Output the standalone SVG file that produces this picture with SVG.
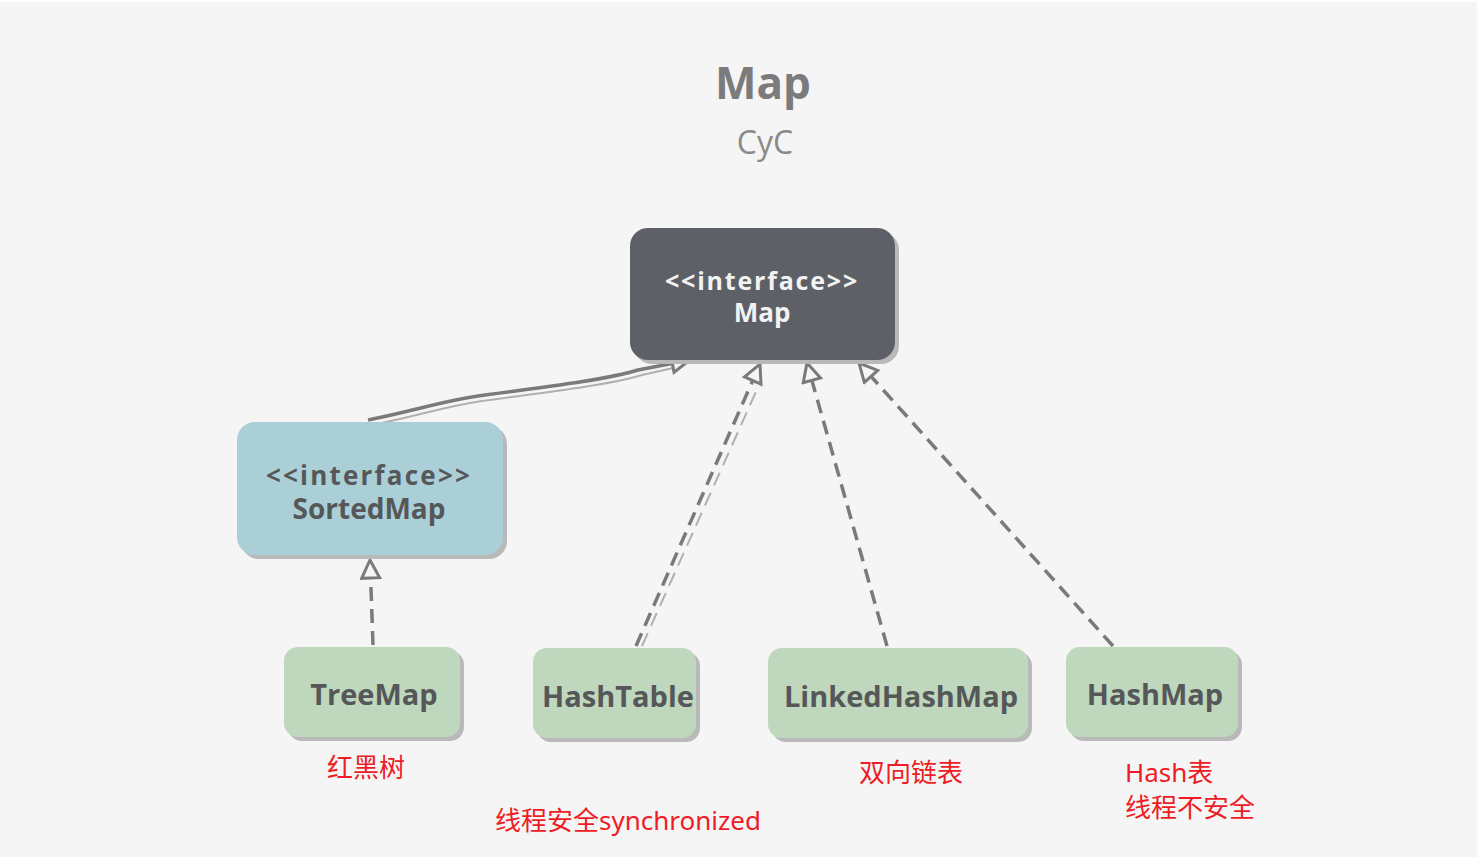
<svg xmlns="http://www.w3.org/2000/svg" width="1483" height="861" viewBox="0 0 1483 861">
<defs>
<style>
.shadow{fill:#b9b9b9}
.lbl{font-family:"Open Sans","Liberation Sans",sans-serif;font-weight:bold;text-anchor:middle}
.dark{fill:#555759}
.red{font-family:"Noto Sans","Noto Sans CJK SC",sans-serif;fill:#ee1c25;font-size:26px}
.ln{fill:none;stroke:#7a7a7a;stroke-width:3.5}
.ln2{fill:none;stroke:#b0b0b0;stroke-width:2}
.dash{stroke-dasharray:14 8}
</style>
<marker id="tri" markerUnits="userSpaceOnUse" markerWidth="24" markerHeight="24" refX="18" refY="9" orient="auto" viewBox="-2 -2 24 24">
<path d="M0,0 L18,9 L0,18 Z" fill="#f5f5f5" stroke="#7a7a7a" stroke-width="3" stroke-linejoin="miter"/>
</marker>
</defs>
<rect x="0" y="0" width="1483" height="861" fill="#ffffff"/>
<rect x="0" y="2" width="1477" height="855" fill="#f5f5f5"/>
<text x="763" y="99" text-anchor="middle" font-family="Open Sans, Liberation Sans, sans-serif" font-weight="bold" font-size="44" fill="#7b7b7b">Map</text>
<text x="765" y="154" text-anchor="middle" font-family="Open Sans, Liberation Sans, sans-serif" font-size="32" fill="#8a8a8a">CyC</text>

<g id="connectors">
<path class="ln2" d="M372,425 C422,415 442,407 482,401 S602,387 642,375 L682,366"/>
<path class="ln" d="M368,420 C418,410 438,402 478,396 S598,382 638,370 L690,360" marker-end="url(#tri)"/>
<path class="ln2 dash" d="M642,646 L759,385"/>
<path class="ln dash" d="M636,646 L760,364" marker-end="url(#tri)"/>
<path class="ln dash" d="M887,646 L807,363" marker-end="url(#tri)"/>
<path class="ln dash" d="M1113,646 L859,363" marker-end="url(#tri)"/>
<path class="ln dash" d="M373,645 L370,560" marker-end="url(#tri)"/>
</g>

<g id="node-map">
<rect class="shadow" x="634" y="232" width="265" height="132" rx="18"/>
<rect x="630" y="228" width="265" height="132" rx="18" fill="#5e6068"/>
<text class="lbl" x="762" y="290" font-size="25" fill="#f2f2f2" letter-spacing="1.8">&lt;&lt;interface&gt;&gt;</text>
<text class="lbl" x="762" y="322" font-size="26" fill="#f2f2f2">Map</text>
</g>

<g id="node-sortedmap">
<rect class="shadow" x="241" y="426" width="266" height="133" rx="18"/>
<rect x="237" y="422" width="266" height="133" rx="18" fill="#abcfd6"/>
<text class="lbl dark" x="369" y="485" font-size="26" letter-spacing="2.2">&lt;&lt;interface&gt;&gt;</text>
<text class="lbl dark" x="369" y="519" font-size="28">SortedMap</text>
</g>

<g id="node-treemap">
<rect class="shadow" x="288" y="651" width="176" height="90" rx="14"/>
<rect x="284" y="647" width="176" height="90" rx="14" fill="#bfd8bd"/>
<text class="lbl dark" x="374" y="705" font-size="29">TreeMap</text>
</g>

<g id="node-hashtable">
<rect class="shadow" x="537" y="652" width="163" height="90" rx="14"/>
<rect x="533" y="648" width="163" height="90" rx="14" fill="#bfd8bd"/>
<text class="lbl dark" x="618" y="707" font-size="29">HashTable</text>
</g>

<g id="node-linkedhashmap">
<rect class="shadow" x="772" y="652" width="260" height="90" rx="14"/>
<rect x="768" y="648" width="260" height="90" rx="14" fill="#bfd8bd"/>
<text class="lbl dark" x="901" y="707" font-size="29">LinkedHashMap</text>
</g>

<g id="node-hashmap">
<rect class="shadow" x="1070" y="651" width="172" height="90" rx="14"/>
<rect x="1066" y="647" width="172" height="90" rx="14" fill="#bfd8bd"/>
<text class="lbl dark" x="1155" y="705" font-size="29">HashMap</text>
</g>

<g id="notes">
<text class="red" x="327" y="777">红黑树</text>
<text class="red" x="495" y="830">线程安全synchronized</text>
<text class="red" x="859" y="782">双向链表</text>
<text class="red" x="1125" y="782">Hash表</text>
<text class="red" x="1125" y="817">线程不安全</text>
</g>
</svg>
